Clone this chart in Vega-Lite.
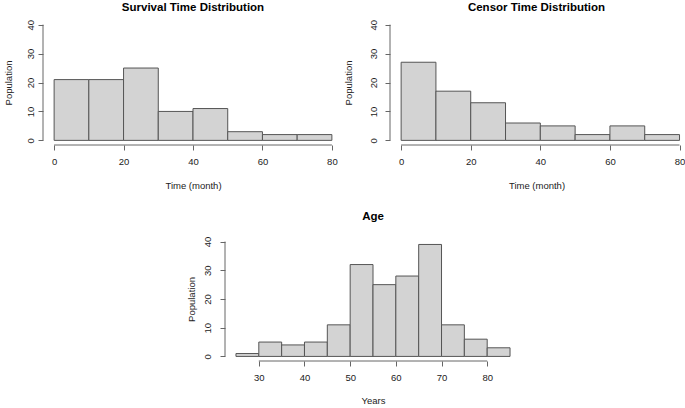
{
  "$schema": "https://vega.github.io/schema/vega-lite/v6.json",
  "background": "white",
  "padding": {"left": 3, "top": 1, "right": 0, "bottom": 0},
  "config": {
    "view": {"stroke": null},
    "font": "Liberation Sans",
    "axis": {"domain": false, "grid": false, "labelOverlap": false, "tickColor": "#666666", "tickSize": 5, "labelFont": "Liberation Sans", "labelFontSize": 9.5, "labelColor": "#222222", "titleFont": "Liberation Sans", "titleFontSize": 9.5, "titleFontWeight": "normal", "titleColor": "#222222"},
    "axisY": {"labelAngle": 270, "labelAlign": "center", "labelBaseline": "bottom", "labelOverlap": false},
    "title": {"font": "Liberation Sans", "fontSize": 11.5, "fontWeight": "bold", "color": "#000000"}
  },
  "datasets": {
    "survival": [
      {"start": 0, "end": 10, "count": 21},
      {"start": 10, "end": 20, "count": 21},
      {"start": 20, "end": 30, "count": 25},
      {"start": 30, "end": 40, "count": 10},
      {"start": 40, "end": 50, "count": 11},
      {"start": 50, "end": 60, "count": 3},
      {"start": 60, "end": 70, "count": 2},
      {"start": 70, "end": 80, "count": 2}
    ],
    "censor": [
      {"start": 0, "end": 10, "count": 27},
      {"start": 10, "end": 20, "count": 17},
      {"start": 20, "end": 30, "count": 13},
      {"start": 30, "end": 40, "count": 6},
      {"start": 40, "end": 50, "count": 5},
      {"start": 50, "end": 60, "count": 2},
      {"start": 60, "end": 70, "count": 5},
      {"start": 70, "end": 80, "count": 2}
    ],
    "age": [
      {"start": 25, "end": 30, "count": 1},
      {"start": 30, "end": 35, "count": 5},
      {"start": 35, "end": 40, "count": 4},
      {"start": 40, "end": 45, "count": 5},
      {"start": 45, "end": 50, "count": 11},
      {"start": 50, "end": 55, "count": 32},
      {"start": 55, "end": 60, "count": 25},
      {"start": 60, "end": 65, "count": 28},
      {"start": 65, "end": 70, "count": 39},
      {"start": 70, "end": 75, "count": 11},
      {"start": 75, "end": 80, "count": 6},
      {"start": 80, "end": 85, "count": 3}
    ],
    "timeAxis": [{"start": 0, "end": 80}],
    "ageAxis": [{"start": 30, "end": 80}],
    "popAxis": [{"count": 0, "count2": 40}]
  },
  "spacing": 20,
  "vconcat": [
    {
      "spacing": 0,
      "hconcat": [
        {
          "width": 300, "height": 125,
          "title": {"text": "Survival Time Distribution", "offset": 6},
          "layer": [
            {
              "data": {"name": "survival"},
              "mark": {"type": "bar", "fill": "#d3d3d3", "stroke": "#555555", "strokeWidth": 1},
              "encoding": {
                "x": {"field": "start", "type": "quantitative", "title": "Time (month)", "scale": {"domain": [-3.2, 83.2], "nice": false, "zero": false}, "axis": {"values": [0, 20, 40, 60, 80], "labelPadding": 6, "titlePadding": 15}},
                "x2": {"field": "end"},
                "y": {"field": "count", "type": "quantitative", "title": "Population", "scale": {"domain": [-1.6, 41.6], "nice": false, "zero": false}, "axis": {"values": [0, 10, 20, 30, 40], "labelOverlap": false, "labelPadding": 3, "titlePadding": 12}},
                "y2": {"datum": 0}
              }
            },
            {
              "data": {"name": "timeAxis"},
              "mark": {"type": "rule", "color": "#666666"},
              "encoding": {
                "x": {"field": "start", "type": "quantitative", "title": "Time (month)", "axis": {"values": [0, 20, 40, 60, 80], "labelPadding": 6, "titlePadding": 15}},
                "x2": {"field": "end"},
                "y": {"datum": -1.6, "type": "quantitative", "title": "Population", "axis": {"values": [0, 10, 20, 30, 40], "labelOverlap": false, "labelPadding": 3, "titlePadding": 12}}
              }
            },
            {
              "data": {"name": "popAxis"},
              "mark": {"type": "rule", "color": "#666666"},
              "encoding": {
                "y": {"field": "count", "type": "quantitative", "title": "Population", "axis": {"values": [0, 10, 20, 30, 40], "labelOverlap": false, "labelPadding": 3, "titlePadding": 12}},
                "y2": {"field": "count2"},
                "x": {"datum": -3.2, "type": "quantitative", "title": "Time (month)", "axis": {"values": [0, 20, 40, 60, 80], "labelPadding": 6, "titlePadding": 15}}
              }
            }
          ]
        },
        {
          "width": 293, "height": 125,
          "title": {"text": "Censor Time Distribution", "offset": 6},
          "layer": [
            {
              "data": {"name": "censor"},
              "mark": {"type": "bar", "fill": "#d3d3d3", "stroke": "#555555", "strokeWidth": 1},
              "encoding": {
                "x": {"field": "start", "type": "quantitative", "title": "Time (month)", "scale": {"domain": [-3.2, 81], "nice": false, "zero": false}, "axis": {"values": [0, 20, 40, 60, 80], "labelPadding": 6, "titlePadding": 15}},
                "x2": {"field": "end"},
                "y": {"field": "count", "type": "quantitative", "title": "Population", "scale": {"domain": [-1.6, 41.6], "nice": false, "zero": false}, "axis": {"values": [0, 10, 20, 30, 40], "labelOverlap": false, "labelPadding": 7, "titlePadding": 15}},
                "y2": {"datum": 0}
              }
            },
            {
              "data": {"name": "timeAxis"},
              "mark": {"type": "rule", "color": "#666666"},
              "encoding": {
                "x": {"field": "start", "type": "quantitative", "title": "Time (month)", "axis": {"values": [0, 20, 40, 60, 80], "labelPadding": 6, "titlePadding": 15}},
                "x2": {"field": "end"},
                "y": {"datum": -1.6, "type": "quantitative", "title": "Population", "axis": {"values": [0, 10, 20, 30, 40], "labelOverlap": false, "labelPadding": 7, "titlePadding": 15}}
              }
            },
            {
              "data": {"name": "popAxis"},
              "mark": {"type": "rule", "color": "#666666"},
              "encoding": {
                "y": {"field": "count", "type": "quantitative", "title": "Population", "axis": {"values": [0, 10, 20, 30, 40], "labelOverlap": false, "labelPadding": 7, "titlePadding": 15}},
                "y2": {"field": "count2"},
                "x": {"datum": -3.2, "type": "quantitative", "title": "Time (month)", "axis": {"values": [0, 20, 40, 60, 80], "labelPadding": 6, "titlePadding": 15}}
              }
            }
          ]
        }
      ]
    },
    {
      "spacing": 0,
      "hconcat": [
        {
          "width": 143, "height": 10,
          "data": {"values": []},
          "mark": "point"
        },
        {
          "width": 296, "height": 124,
          "title": {"text": "Age", "offset": 14},
          "layer": [
            {
              "data": {"name": "age"},
              "mark": {"type": "bar", "fill": "#d3d3d3", "stroke": "#555555", "strokeWidth": 1},
              "encoding": {
                "x": {"field": "start", "type": "quantitative", "title": "Years", "scale": {"domain": [22.6, 87.4], "nice": false, "zero": false}, "axis": {"values": [30, 40, 50, 60, 70, 80], "labelPadding": 6, "titlePadding": 14}},
                "x2": {"field": "end"},
                "y": {"field": "count", "type": "quantitative", "title": "Population", "scale": {"domain": [-1.6, 41.6], "nice": false, "zero": false}, "axis": {"values": [0, 10, 20, 30, 40], "labelOverlap": false, "labelPadding": 8, "titlePadding": 6}},
                "y2": {"datum": 0}
              }
            },
            {
              "data": {"name": "ageAxis"},
              "mark": {"type": "rule", "color": "#666666"},
              "encoding": {
                "x": {"field": "start", "type": "quantitative", "title": "Years", "axis": {"values": [30, 40, 50, 60, 70, 80], "labelPadding": 6, "titlePadding": 14}},
                "x2": {"field": "end"},
                "y": {"datum": -1.6, "type": "quantitative", "title": "Population", "axis": {"values": [0, 10, 20, 30, 40], "labelOverlap": false, "labelPadding": 8, "titlePadding": 6}}
              }
            },
            {
              "data": {"name": "popAxis"},
              "mark": {"type": "rule", "color": "#666666"},
              "encoding": {
                "y": {"field": "count", "type": "quantitative", "title": "Population", "axis": {"values": [0, 10, 20, 30, 40], "labelOverlap": false, "labelPadding": 8, "titlePadding": 6}},
                "y2": {"field": "count2"},
                "x": {"datum": 22.6, "type": "quantitative", "title": "Years", "axis": {"values": [30, 40, 50, 60, 70, 80], "labelPadding": 6, "titlePadding": 14}}
              }
            }
          ]
        }
      ]
    }
  ]
}
